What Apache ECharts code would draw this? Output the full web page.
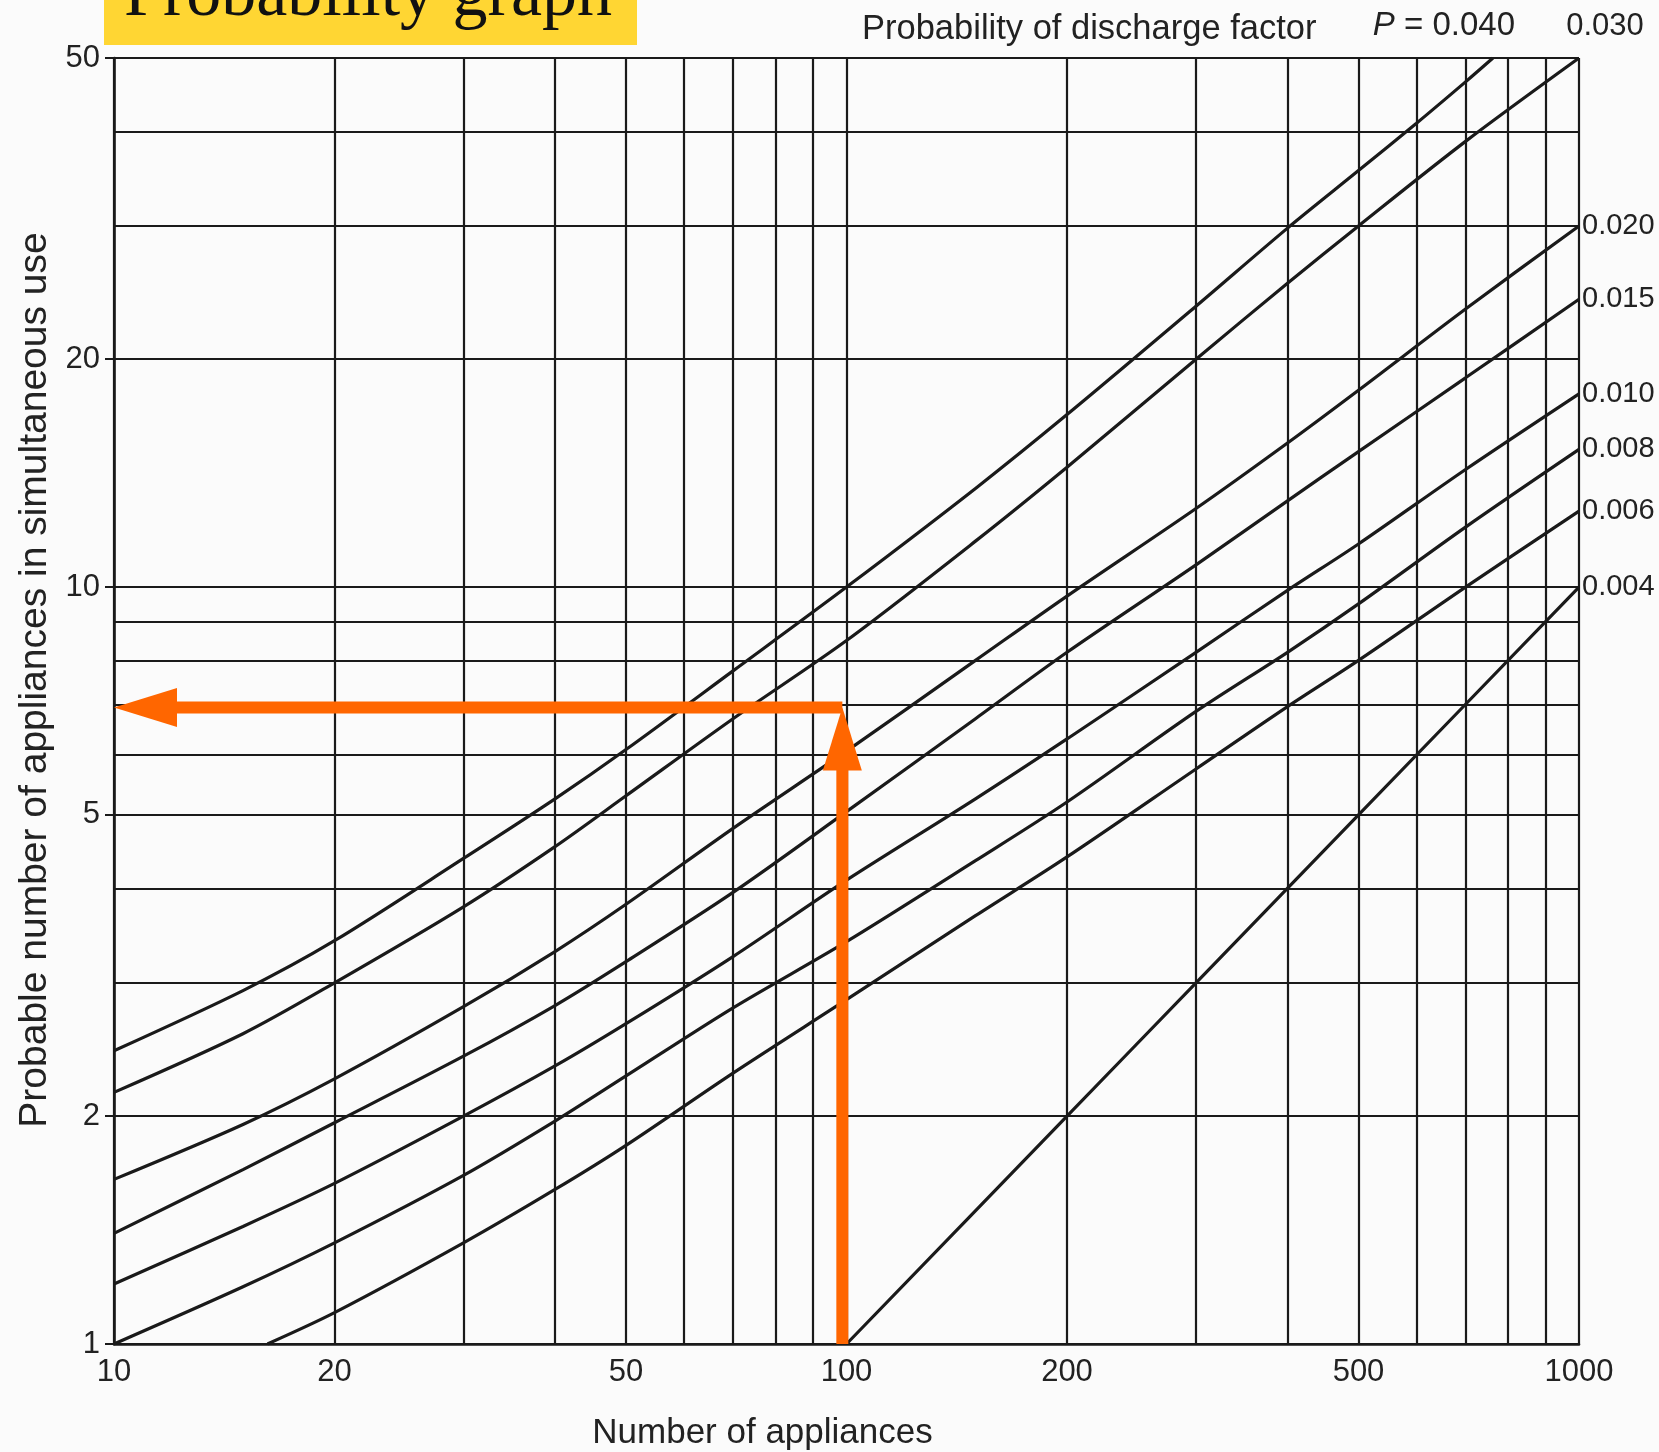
<!DOCTYPE html>
<html>
<head>
<meta charset="utf-8">
<script src="https://cdn.jsdelivr.net/npm/echarts@6/dist/echarts.min.js"></script>
<style>
html,body{margin:0;padding:0;background:#fbfbfb;}
#chart{width:1659px;height:1452px;}
</style>
</head>
<body>
<div id="chart"></div>
<script>
// ---- axes / tick values ----
const xTicks = [10,20,30,40,50,60,70,80,90,100,200,300,400,500,600,700,800,900,1000];
const xLabels = [10,20,50,100,200,500,1000];
const yTicks = [1,2,3,4,5,6,7,8,9,10,20,30,40,50];
const yLabels = [1,2,5,10,20,50];

// ---- curves: [number of appliances, probable number in simultaneous use] ----
const p040 = [[10,2.44],[15,2.93],[20,3.41],[30,4.38],[40,5.25],[50,6.1],[70,7.75],[100,10],[150,13.5],[200,16.9],[300,23.5],[400,29.8],[500,35.5],[600,41],[700,46.5],[763,50]];
const p030 = [[10,2.15],[15,2.57],[20,3.0],[30,3.78],[40,4.54],[50,5.3],[70,6.7],[100,8.5],[150,11.5],[200,14.4],[300,20],[400,25.2],[500,30],[700,38.8],[1000,50]];
const p020 = [[10,1.65],[15,1.95],[20,2.24],[30,2.79],[40,3.3],[50,3.81],[70,4.8],[100,6.07],[150,8.0],[200,9.73],[300,12.7],[400,15.5],[500,18.2],[700,23.3],[1000,30]];
const p015 = [[10,1.40],[15,1.70],[20,1.96],[30,2.4],[40,2.8],[50,3.2],[70,3.95],[100,5.05],[150,6.7],[200,8.2],[300,10.7],[400,13.0],[500,15.1],[700,18.9],[1000,24]];
const p010 = [[10,1.20],[15,1.43],[20,1.63],[30,2.0],[40,2.33],[50,2.65],[70,3.25],[100,4.1],[150,5.25],[200,6.3],[300,8.2],[400,9.9],[500,11.4],[700,14.3],[1000,18]];
const p008 = [[10,1.0],[15,1.19],[20,1.36],[30,1.67],[40,1.97],[50,2.26],[70,2.78],[100,3.4],[150,4.35],[200,5.2],[300,6.85],[400,8.2],[500,9.5],[700,12.0],[1000,15.2]];
const p006 = [[16.2,1.0],[20,1.10],[30,1.36],[40,1.60],[50,1.83],[70,2.28],[100,2.85],[150,3.68],[200,4.4],[300,5.75],[400,6.95],[500,8.0],[700,10.0],[1000,12.6]];
const p004 = [[100,1],[200,2],[300,3],[500,5],[1000,10]];

const sideCurves = [
  {name:'0.020', data:p020},
  {name:'0.015', data:p015},
  {name:'0.010', data:p010},
  {name:'0.008', data:p008},
  {name:'0.006', data:p006},
  {name:'0.004', data:p004}
];
const topCurves = [
  {name:'0.040', data:p040},
  {name:'0.030', data:p030}
];

// ---- worked-example arrow (orange) ----
const arrowN = 98.7;          // number of appliances read
const arrowValue = 6.93;
const arrowShaftV = [[arrowN,1],[arrowN,6.0]];
const arrowShaftH = [[arrowN,arrowValue],[12,arrowValue]];

const INK = '#1a1a1a';
const TXT = '#222222';
const FONT = '"Liberation Sans",Arial,sans-serif';

const series = [];
topCurves.concat(sideCurves).forEach(c => {
  const s = {
    name: c.name, type:'line', data:c.data, showSymbol:false, silent:true,
    smooth:0.3,
    lineStyle:{color:INK, width:3.2}, z:3
  };
  if (sideCurves.includes(c)) {
    s.endLabel = {show:true, formatter:c.name, color:TXT, fontSize:29, fontFamily:FONT, distance:3};
  }
  series.push(s);
});

// labels of the two curves that leave through the top edge
series.push({
  type:'scatter', silent:true, clip:false, symbolSize:0.01, itemStyle:{color:INK, opacity:1},
  data:[
    {value:p040[p040.length-1], label:{show:true, position:'top', distance:0, offset:[-49,-16],
      formatter:'{i|P} = 0.040', color:TXT, opacity:1, fontSize:33, fontFamily:FONT,
      rich:{i:{fontStyle:'italic', fontSize:33, fontFamily:FONT, color:TXT}}}},
    {value:p030[p030.length-1], label:{show:true, position:'top', distance:0, offset:[26,-16],
      formatter:'0.030', color:TXT, opacity:1, fontSize:31, fontFamily:FONT}}
  ]
});

// orange arrow
const ORANGE = '#FF6600';
series.push({type:'line', data:arrowShaftV, showSymbol:false, silent:true, lineStyle:{color:ORANGE, width:12, cap:'butt'}, z:6});
series.push({type:'line', data:arrowShaftH, showSymbol:false, silent:true, lineStyle:{color:ORANGE, width:12, cap:'butt'}, z:6});
series.push({type:'scatter', silent:true, clip:false, z:7, symbol:'triangle', symbolSize:[39,63], symbolOffset:[0,31.5],
  itemStyle:{color:ORANGE, opacity:1}, data:[[arrowN,arrowValue]]});
series.push({type:'scatter', silent:true, clip:false, z:7, symbol:'triangle', symbolSize:[39,63], symbolRotate:90, symbolOffset:[31.5,0],
  itemStyle:{color:ORANGE, opacity:1}, data:[[10,arrowValue]]});

const chart = echarts.init(document.getElementById('chart'), null, {renderer:'canvas'});
chart.setOption({
  backgroundColor:'#fbfbfb',
  animation:false,
  grid:{left:114, right:80, top:58, bottom:108, containLabel:false, outerBoundsMode:'none'},
  xAxis:{
    type:'log', logBase:10, min:10, max:1000,
    name:'Number of appliances', nameLocation:'middle', nameGap:72,
    nameTextStyle:{fontSize:35, fontFamily:FONT, color:TXT, padding:[0,168,0,0]},
    axisLine:{show:true, lineStyle:{color:INK, width:2.6}},
    axisTick:{show:false, customValues:xTicks},
    axisLabel:{customValues:xLabels, formatter:v => String(v), fontSize:31, fontFamily:FONT, color:TXT, margin:13},
    splitLine:{show:true, lineStyle:{color:INK, width:2.2}},
    minorTick:{show:false}, minorSplitLine:{show:false}
  },
  yAxis:[{
    type:'log', logBase:10, min:1, max:50, position:'left',
    name:'Probable number of appliances in simultaneous use', nameLocation:'middle', nameGap:58, nameRotate:90,
    nameTextStyle:{fontSize:39, fontFamily:FONT, color:TXT, padding:[0,0,0,42]},
    axisLine:{show:true, lineStyle:{color:INK, width:2.6}},
    axisTick:{show:false, customValues:yTicks},
    axisLabel:{customValues:yLabels, formatter:v => String(v), fontSize:31, fontFamily:FONT, color:TXT, margin:14},
    splitLine:{show:true, lineStyle:{color:INK, width:2.2}},
    minorTick:{show:false}, minorSplitLine:{show:false}
  },{
    // short outward tick dashes at the labelled values only
    type:'log', logBase:10, min:1, max:50, position:'left', offset:0,
    axisLine:{show:false},
    axisTick:{show:true, customValues:yLabels, length:9, lineStyle:{color:INK, width:2}},
    axisLabel:{show:false},
    splitLine:{show:false}
  }],
  graphic:[
    {type:'rect', shape:{x:104, y:0, width:533, height:45}, style:{fill:'#FFD633'}, z:10},
    {type:'text', x:124, y:-3, z:11, style:{text:'Probability graph', fontSize:70, fontFamily:'"Liberation Serif","Times New Roman",serif', fill:'#111', align:'left', verticalAlign:'middle'}},
    {type:'text', x:862, y:29, z:11, style:{text:'Probability of discharge factor', fontSize:34.5, fontFamily:FONT, fill:TXT, align:'left', verticalAlign:'middle'}}
  ],
  series: series
});
</script>
</body>
</html>
